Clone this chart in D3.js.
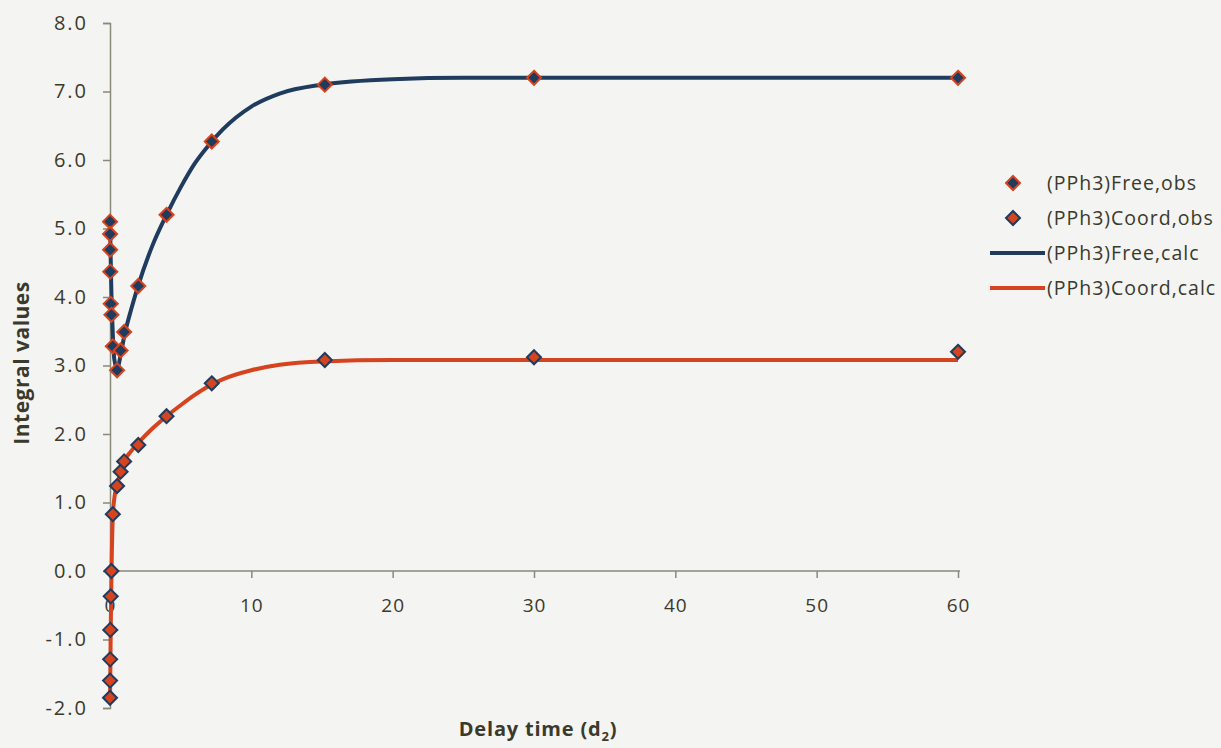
<!DOCTYPE html>
<html>
<head>
<meta charset="utf-8">
<script src="https://cdn.jsdelivr.net/npm/d3@7"></script>
<style>
  html, body { margin: 0; padding: 0; background: #f4f4f2; }
  svg { display: block; }
  text { font-family: "Open Sans", Lato, sans-serif; fill: #3a3a2c; }
</style>
</head>
<body>
<svg id="chart" width="1221" height="748"></svg>
<script>
// ---- Data ----
const obsTimes = [0.001, 0.005, 0.01, 0.02, 0.05, 0.1, 0.2, 0.5, 0.75, 1, 2, 4, 7.2, 15.2, 30, 60];
const freeObs  = [5.10, 4.92, 4.69, 4.37, 3.90, 3.74, 3.28, 2.93, 3.22, 3.49, 4.16, 5.20, 6.27, 7.10, 7.20, 7.20];
const coordObs = [-1.85, -1.60, -1.29, -0.86, -0.37, 0.00, 0.83, 1.24, 1.45, 1.60, 1.84, 2.26, 2.74, 3.08, 3.12, 3.20];

const calcTimes = [0, 0.05, 0.1, 0.2, 0.3, 0.5, 0.75, 1, 1.5, 2, 3, 4, 5, 6, 7, 8, 10, 12, 15, 20, 25, 30, 40, 60];
const freeCalc  = [5.12, 4.55, 4.05, 3.45, 3.10, 2.95, 3.15, 3.42, 3.82, 4.17, 4.75, 5.20, 5.60, 5.95, 6.22, 6.45, 6.78, 6.97, 7.10, 7.18, 7.20, 7.20, 7.20, 7.20];
const coordCalc = [-1.90, -0.90, -0.10, 0.80, 1.05, 1.25, 1.45, 1.60, 1.75, 1.87, 2.08, 2.26, 2.42, 2.57, 2.70, 2.80, 2.93, 3.01, 3.06, 3.08, 3.08, 3.08, 3.08, 3.08];

const xTicks = [0, 10, 20, 30, 40, 50, 60];
const yTicks = [-2, -1, 0, 1, 2, 3, 4, 5, 6, 7, 8];

const seriesNames = ["(PPh3)Free,obs", "(PPh3)Coord,obs", "(PPh3)Free,calc", "(PPh3)Coord,calc"];

const BLUE = "#1f3b5e";
const RED = "#d6431f";
const AXIS = "#8a897a";
const TXT = "#3a3a2c";

// ---- Scales ----
const svg = d3.select("#chart");
const x = d3.scaleLinear().domain([0, 60]).range([110, 958]);
const y = d3.scaleLinear().domain([-2, 8]).range([708, 23]);

// ---- Axes ----
const yAxis = d3.axisLeft(y).tickValues(yTicks).tickFormat(d => d.toFixed(1)).tickSize(7).tickPadding(15);
const gy = svg.append("g").attr("transform", `translate(${x(0)},0)`).call(yAxis);
gy.select(".domain").attr("stroke", AXIS).attr("stroke-width", 1.5);
gy.selectAll(".tick line").attr("stroke", AXIS).attr("stroke-width", 1.5);
gy.selectAll(".tick text").style("font-size", "20px").style("letter-spacing", "2px")
  .attr("fill", TXT).style("font-family", "'Open Sans', sans-serif");

const xAxis = d3.axisBottom(x).tickValues(xTicks).tickFormat(d3.format("d")).tickSize(7).tickPadding(21);
const gx = svg.append("g").attr("transform", `translate(0,${y(0)})`).call(xAxis);
gx.select(".domain").attr("stroke", AXIS).attr("stroke-width", 1.5).attr("d", `M${x(0)},0H${x(60) + 2}`);
gx.selectAll(".tick line").attr("stroke", AXIS).attr("stroke-width", 1.5);
gx.selectAll(".tick text").style("font-size", "19px").style("letter-spacing", "1px")
  .attr("fill", TXT).style("font-family", "'Open Sans', sans-serif");

// ---- Axis titles ----
svg.append("text")
  .attr("transform", `translate(29,363) rotate(-90)`)
  .attr("text-anchor", "middle")
  .style("font-size", "21px").style("font-weight", "bold").style("letter-spacing", "0.5px")
  .text("Integral values");

const xt = svg.append("text")
  .attr("x", 538).attr("y", 736)
  .attr("text-anchor", "middle")
  .style("font-size", "20px").style("font-weight", "bold").style("letter-spacing", "0.8px");
xt.append("tspan").text("Delay time (d");
xt.append("tspan").attr("dy", 5).style("font-size", "13px").text("2");
xt.append("tspan").attr("dy", -5).text(")");

// ---- Lines ----
const line = d3.line().x(d => x(d[0])).y(d => y(d[1])).curve(d3.curveMonotoneX);
svg.append("path").datum(calcTimes.map((t, i) => [t, freeCalc[i]]))
  .attr("d", line).attr("fill", "none").attr("stroke", BLUE).attr("stroke-width", 4);
svg.append("path").datum(calcTimes.map((t, i) => [t, coordCalc[i]]))
  .attr("d", line).attr("fill", "none").attr("stroke", RED).attr("stroke-width", 4);

// ---- Markers ----
const diamond = d3.symbol().type(d3.symbolDiamond2).size(125);
function markers(vals, fill, stroke) {
  svg.append("g").selectAll("path").data(obsTimes.map((t, i) => [t, vals[i]])).join("path")
    .attr("d", diamond)
    .attr("transform", d => `translate(${x(d[0])},${y(d[1])})`)
    .attr("fill", fill).attr("stroke", stroke).attr("stroke-width", 2);
}
markers(freeObs, BLUE, RED);
markers(coordObs, RED, BLUE);

// ---- Legend ----
const legY = [183, 218, 253, 288];
const lg = svg.append("g");
[0, 1].forEach(i => {
  lg.append("path").attr("d", diamond)
    .attr("transform", `translate(1013,${legY[i]})`)
    .attr("fill", i === 0 ? BLUE : RED).attr("stroke", i === 0 ? RED : BLUE).attr("stroke-width", 2);
});
[2, 3].forEach(i => {
  lg.append("line").attr("x1", 990).attr("x2", 1045).attr("y1", legY[i]).attr("y2", legY[i])
    .attr("stroke", i === 2 ? BLUE : RED).attr("stroke-width", 4);
});
seriesNames.forEach((n, i) => {
  lg.append("text").attr("x", 1047).attr("y", legY[i]).attr("dy", "0.35em")
    .style("font-size", "19.5px").style("letter-spacing", "1px").text(n);
});
</script>
</body>
</html>
